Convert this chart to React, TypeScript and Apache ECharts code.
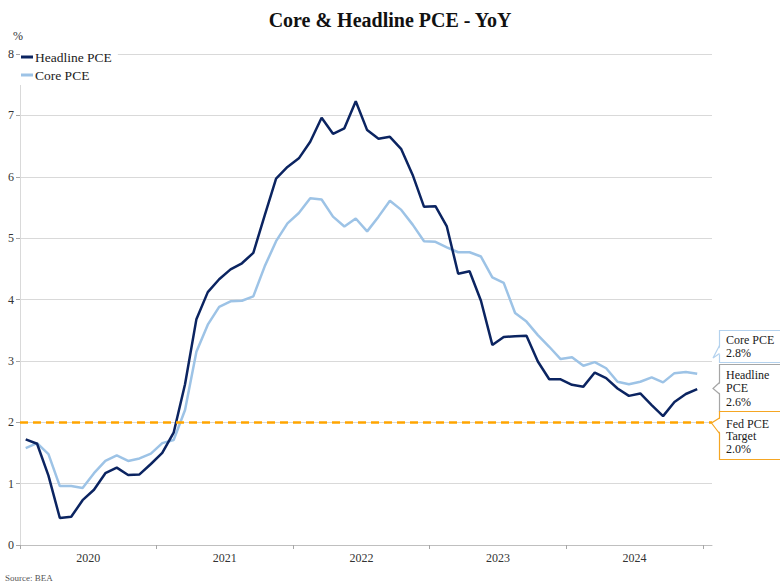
import React, { useEffect, useRef } from "react";
import * as echarts from "echarts";

const years = ["2020", "2021", "2022", "2023", "2024"];

// YoY %, monthly Jan 2020 – Dec 2024
const headlinePCE = [
  1.72, 1.65, 1.13, 0.44, 0.46, 0.73, 0.9, 1.17, 1.26, 1.14, 1.15, 1.32,
  1.5, 1.83, 2.62, 3.68, 4.12, 4.33, 4.49, 4.59, 4.76, 5.37, 5.97, 6.16,
  6.3, 6.57, 6.96, 6.7, 6.79, 7.23, 6.76, 6.62, 6.65, 6.45, 6.03, 5.51,
  5.52, 5.19, 4.42, 4.46, 3.98, 3.26, 3.39, 3.4, 3.41, 2.99, 2.7, 2.7,
  2.61, 2.58, 2.81, 2.72, 2.55, 2.43, 2.47, 2.28, 2.1, 2.33, 2.46, 2.54,
];

const corePCE = [
  1.58, 1.66, 1.48, 0.96, 0.96, 0.93, 1.17, 1.37, 1.46, 1.37, 1.41, 1.49,
  1.66, 1.71, 2.2, 3.15, 3.59, 3.88, 3.97, 3.98, 4.05, 4.54, 4.95, 5.24,
  5.41, 5.65, 5.63, 5.35, 5.19, 5.32, 5.11, 5.35, 5.61, 5.46, 5.22, 4.95,
  4.94, 4.85, 4.77, 4.77, 4.7, 4.36, 4.27, 3.78, 3.64, 3.42, 3.23, 3.03,
  3.06, 2.92, 2.98, 2.88, 2.66, 2.62, 2.66, 2.73, 2.65, 2.8, 2.82, 2.79,
];

const fedTarget = 2.0;
const yTicks = [0, 1, 2, 3, 4, 5, 6, 7, 8];

const calloutCore = "Core PCE\n2.8%";
const calloutHeadline = "Headline\nPCE\n2.6%";
const calloutFed = "Fed PCE\nTarget\n2.0%";

const FONT = "'Liberation Serif', 'DejaVu Serif', serif";
const NAVY = "#0b2461";
const LIGHT = "#9dc3e6";
const ORANGE = "#ffa500";

export default function App() {
  const ref = useRef<HTMLDivElement>(null);

  useEffect(() => {
    document.body.style.margin = "0";
    if (!ref.current) return;
    const chart = echarts.init(ref.current, null, { renderer: "svg" });

    const monthsPerYear = 12;
    const tickVals = years.map((_, i) => i * monthsPerYear).concat([years.length * monthsPerYear]);
    const labelVals = years.map((_, i) => i * monthsPerYear + monthsPerYear / 2);

    const box = (id: string, y: number, h: number, stroke: string, tipY: number, baseTop: number, baseBot: number, text: string, textTop: number, lh: number, z: number, tipX = 713) => [
      {
        id: id + "-rect",
        type: "rect",
        shape: { x: 719.5, y, width: 80, height: h },
        style: { fill: "#fff", stroke: stroke, lineWidth: 1.2 },
        z,
      },
      {
        id: id + "-cover",
        type: "polygon",
        shape: { points: [[721, baseTop], [tipX, tipY], [721, baseBot]] },
        style: { fill: "#fff", stroke: "none" },
        z: z + 1,
      },
      {
        id: id + "-ptr",
        type: "polyline",
        shape: { points: [[719.5, baseTop], [tipX, tipY], [719.5, baseBot]] },
        style: { fill: "none", stroke: stroke, lineWidth: 1.2 },
        z: z + 2,
      },
      {
        id: id + "-text",
        type: "text",
        x: 726,
        y: textTop,
        style: {
          text,
          font: `12px ${FONT}`,
          fill: "#1a1a1a",
          lineHeight: lh,
          verticalAlign: "top",
        },
        z: z + 3,
      },
    ];

    chart.setOption({
      animation: false,
      backgroundColor: "#fff",
      title: {
        text: "Core & Headline PCE - YoY",
        left: "center",
        top: 5,
        textStyle: { fontFamily: FONT, fontSize: 20, fontWeight: "bold", color: "#111" },
      },
      legend: {
        orient: "vertical",
        left: 20,
        top: 47,
        padding: [3, 6, 3, 1],
        itemGap: 4,
        itemWidth: 12,
        itemHeight: 3,
        backgroundColor: "#fff",
        icon: "rect",
        data: ["Headline PCE", "Core PCE"],
        textStyle: { fontFamily: FONT, fontSize: 13.5, color: "#222", padding: [0, 0, 0, -3] },
        z: 5,
      },
      grid: { left: 20, right: 68, top: 54, bottom: 40 },
      xAxis: {
        type: "value",
        min: 0,
        max: 60.8,
        splitLine: { show: false },
        axisLine: { show: true, lineStyle: { color: "#bfbfbf", width: 1 } },
        axisTick: { show: true, length: 4, lineStyle: { color: "#a6a6a6" }, customValues: tickVals },
        axisLabel: {
          customValues: labelVals,
          formatter: (v: number) => years[Math.round((v - monthsPerYear / 2) / monthsPerYear)] ?? "",
          fontFamily: FONT,
          fontSize: 12,
          color: "#333",
          margin: 7,
        },
      },
      yAxis: {
        type: "value",
        min: yTicks[0],
        max: yTicks[yTicks.length - 1],
        interval: 1,
        name: "%",
        nameLocation: "end",
        nameGap: 12,
        nameTextStyle: { fontFamily: FONT, fontSize: 12, color: "#333", padding: [0, 4, 0, 0] },
        axisLine: { show: true, lineStyle: { color: "#d9d9d9", width: 1 } },
        axisTick: { show: true, length: 4, lineStyle: { color: "#a6a6a6" } },
        axisLabel: { fontFamily: FONT, fontSize: 12, color: "#333", margin: 6 },
        splitLine: { show: true, lineStyle: { color: "#d9d9d9", width: 1 } },
      },
      series: [
        {
          name: "Headline PCE",
          type: "line",
          data: headlinePCE.map((v, i) => [i + 0.5, v]),
          symbol: "none",
          lineStyle: { color: NAVY, width: 2.5 },
          itemStyle: { color: NAVY },
          z: 4,
        },
        {
          name: "Core PCE",
          type: "line",
          data: corePCE.map((v, i) => [i + 0.5, v]),
          symbol: "none",
          lineStyle: { color: LIGHT, width: 2.5 },
          itemStyle: { color: LIGHT },
          z: 3,
          markLine: {
            silent: true,
            symbol: "none",
            label: { show: false },
            lineStyle: { color: ORANGE, type: [8, 5], width: 2.5 },
            data: [{ yAxis: fedTarget }],
          },
        },
      ],
      graphic: {
        elements: [
          ...box("core", 330.5, 32, "#b4d2ee", 358, 345.5, 353.5, calloutCore, 333, 13.5, 10),
          ...box("head", 364.5, 47, "#a6a6a6", 388.5, 382.5, 394, calloutHeadline, 368, 13.5, 20),
          ...box("fed", 411.5, 48, "#f5a623", 423, 418, 433.5, calloutFed, 417.5, 12.5, 30, 711.5),
          {
            id: "source",
            type: "text",
            left: 5,
            top: 573,
            style: { text: "Source: BEA", font: `9px ${FONT}`, fill: "#555" },
          },
        ],
      },
    });

    return () => chart.dispose();
  }, []);

  return <div ref={ref} style={{ width: 780, height: 585 }} />;
}
